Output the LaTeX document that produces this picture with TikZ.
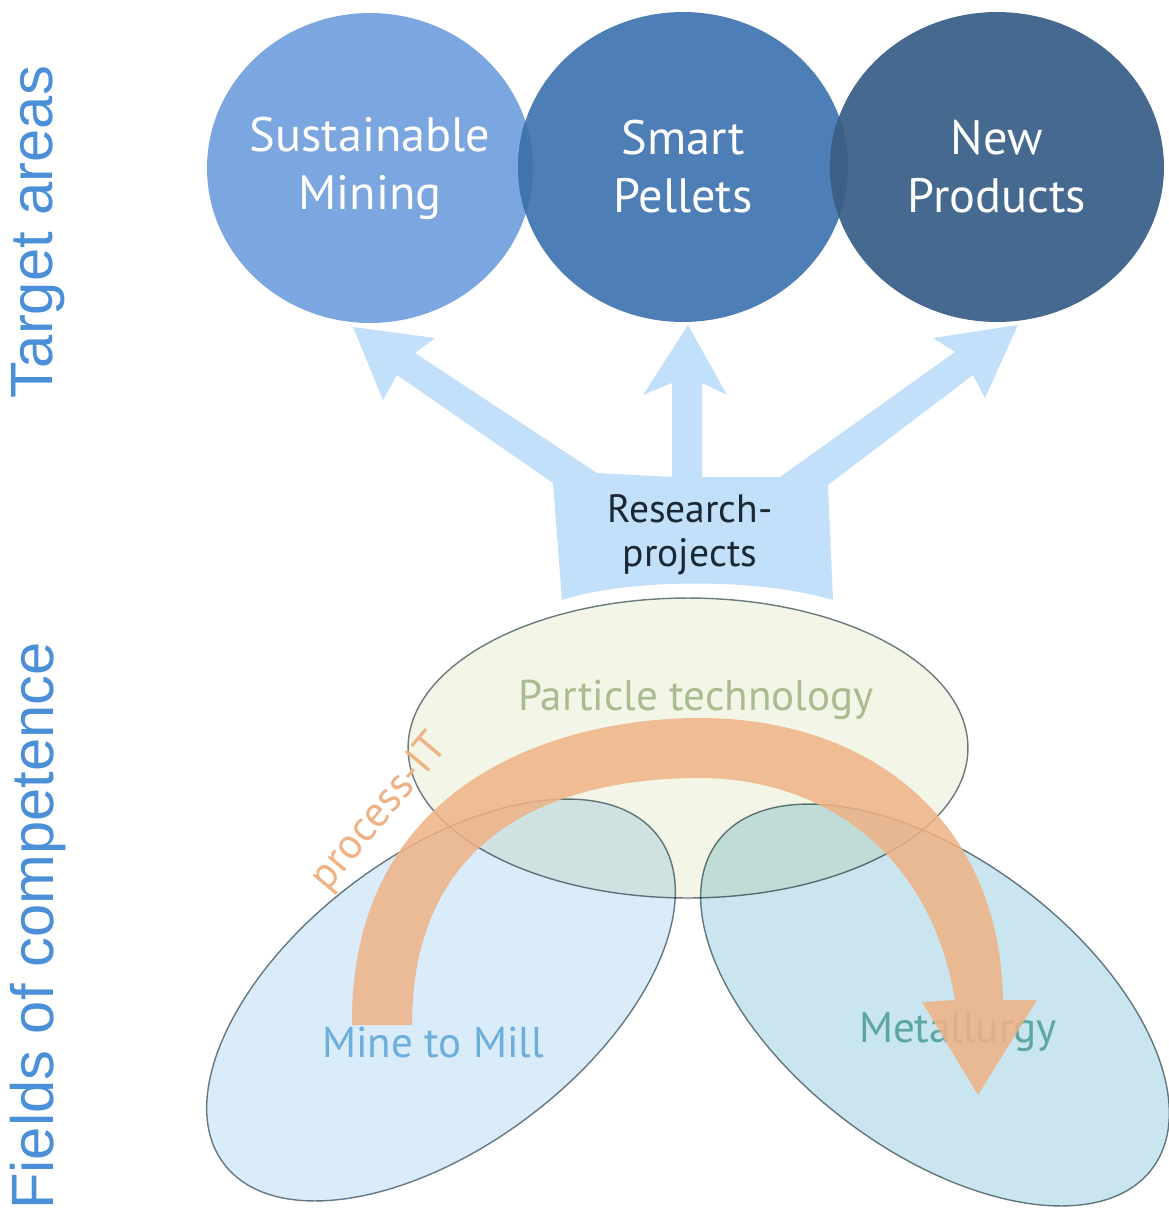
\documentclass[tikz,border=0pt]{standalone}
\usepackage{fontspec}
\setmainfont{PT Sans}
\newfontfamily\labelfont{Liberation Sans}
\usepackage{tikz}
\usetikzlibrary{shapes.geometric, positioning}

\definecolor{sustblue}{HTML}{7BA6E0}
\definecolor{smartblue}{HTML}{4E7EB6}
\definecolor{newblue}{HTML}{46698F}
\definecolor{sustdark}{HTML}{4074AF}
\definecolor{smartdark}{HTML}{3C5F87}
\definecolor{arrowblue}{HTML}{C2E0FA}
\definecolor{sideblue}{HTML}{4A8FD8}
\definecolor{ringgray}{HTML}{6F7E84}
\definecolor{partfill}{HTML}{F3F6E6}
\definecolor{partgreen}{HTML}{ABBB90}
\definecolor{minefill}{HTML}{DAEBFA}
\definecolor{minetext}{HTML}{6DAFDC}
\definecolor{metalfill}{HTML}{C9E5EF}
\definecolor{metaltext}{HTML}{5DA6A1}
\definecolor{flow}{HTML}{EFB285}
\definecolor{projtext}{HTML}{1B2733}

\begin{document}
\begin{tikzpicture}[x=0.02cm, y=-0.02cm,
    target/.style={ellipse, minimum height=6.2cm, inner sep=0pt},
    targettext/.style={text=white, align=center, inner sep=0pt, font=\fontsize{27.5}{33}\selectfont},
    field/.style={ellipse, draw=ringgray, line width=0.8pt, inner sep=0pt},
    fieldtext/.style={inner sep=0pt, font=\fontsize{24.5}{28}\selectfont},
    side/.style={rotate=90, text=sideblue, font=\labelfont\fontsize{34}{40}\selectfont}]

    \useasboundingbox (0,0) rectangle (1169,1215);

    % research projects
    \fill[arrowblue] (562,600) -- (553,483) -- (397,375) -- (383,400) -- (353,327) -- (435,338)
        -- (415,353) -- (597,473) -- (672,477) -- (672,383) -- (643,395) -- (688,325)
        -- (727,395) -- (702,383) -- (702,477) -- (780,477) -- (955,352) -- (933,338)
        -- (1018,325) -- (985,398) -- (973,375) -- (828,485) -- (833,600)
        .. controls (760,578) and (630,578) .. (562,600) -- cycle;
    \node[text=projtext, align=center, inner sep=0pt, font=\fontsize{22.5}{25}\selectfont] (proj) at (690,535) {Research-\\projects};

    % target areas
    \node[target, fill=sustblue, minimum width=6.52cm] (sust) at (370,168) {};
    \node[target, fill=smartblue, minimum width=6.6cm] (smart) at (683,167) {};
    \begin{scope}
        \clip (370,168) ellipse [x radius=163, y radius=155];
        \fill[sustdark] (683,167) ellipse [x radius=165, y radius=155];
    \end{scope}
    \node[target, fill=newblue, minimum width=6.68cm] (new) at (997,167) {};
    \begin{scope}
        \clip (683,167) ellipse [x radius=165, y radius=155];
        \fill[smartdark] (997,167) ellipse [x radius=167, y radius=155];
    \end{scope}
    \node[targettext] (sust-t) at (sust) {Sustainable\\Mining};
    \node[targettext] (smart-t) at (smart) {Smart\\Pellets};
    \node[targettext] (new-t) at (new) {New\\Products};

    % fields of competence
    \begin{scope}[blend mode=multiply]
        \node[field, fill=minefill, minimum width=10.88cm, minimum height=5.84cm, rotate=37] (mine) at (441,1000) {};
        \node[field, fill=metalfill, minimum width=10.88cm, minimum height=5.84cm, rotate=-37] (metal) at (935,1005) {};
        \node[field, fill=partfill, minimum width=11.2cm, minimum height=6cm] (part) at (688,748) {};
    \end{scope}
    \node[fieldtext, text=partgreen] (part-t) at (696,700) {Particle technology};
    \node[fieldtext, text=minetext] (mine-t) at (433,1043) {Mine to Mill};
    \node[fieldtext, text=metaltext] (metal-t) at (958,1032) {Metallurgy};

    % process flow
    \fill[flow, fill opacity=0.85] (352,1025) .. controls (350,780) and (560,718) .. (700,718)
        .. controls (870,718) and (1000,820) .. (1003,1000) -- (1037,1000) -- (978,1095)
        -- (922,1002) -- (955,1000) .. controls (930,850) and (820,778) .. (700,778)
        .. controls (560,778) and (412,830) .. (412,1025) -- cycle;
    \node[fieldtext, text=flow, rotate=50] (proc) at (380,813) {process-IT};

    \node[side] (tgt) at (38,232) {Target areas};
    \node[side] (fld) at (38,926) {Fields of competence};
\end{tikzpicture}
\end{document}
